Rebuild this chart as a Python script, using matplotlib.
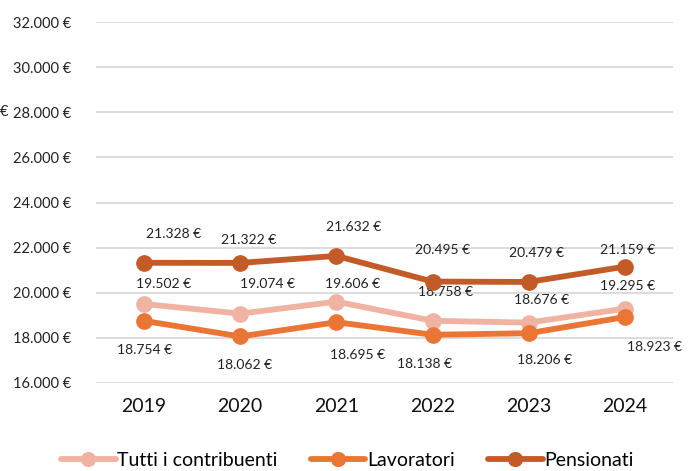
import matplotlib
matplotlib.use("Agg")
import matplotlib.pyplot as plt
from matplotlib.ticker import FuncFormatter

years = ["2019", "2020", "2021", "2022", "2023", "2024"]
tutti = [19502, 19074, 19606, 18758, 18676, 19295]
lavoratori = [18754, 18062, 18695, 18138, 18206, 18923]
pensionati = [21328, 21322, 21632, 20495, 20479, 21159]
series_names = ["Tutti i contribuenti", "Lavoratori", "Pensionati"]

colors = ["#F1B3A1", "#EB7535", "#C25B28"]

# label offsets in pixels (dx, dy) relative to points
off_tutti = [(19, 20), (27, 30), (16, 18), (13, 29), (13, 23), (3, 23)]
off_lav = [(0, -29), (4, -29), (21, -33), (-8, -29), (16, -27), (30, -30)]
off_pens = [(29, 29), (8, 23), (17, 29), (10, 32), (8, 29), (3, 17)]

plt.rcParams['font.family'] = ['Lato', 'DejaVu Sans']

fig = plt.figure(figsize=(6.95, 4.71), dpi=100)
ax = fig.add_axes([96/695, 88/471, 577/695, 361/471])

x = list(range(len(years)))
lw = 4.2
ms = 11
for vals, col, name, offs in [(tutti, colors[0], series_names[0], off_tutti),
                              (lavoratori, colors[1], series_names[1], off_lav),
                              (pensionati, colors[2], series_names[2], off_pens)]:
    ax.plot(x, vals, color=col, lw=lw, marker='o', ms=ms, label=name,
            solid_capstyle='round', zorder=3)
    for xi, v, (dx, dy) in zip(x, vals, offs):
        txt = f"{v:,}".replace(",", ".") + " €"
        ax.annotate(txt, (xi, v), xytext=(dx * 0.72, dy * 0.72),
                    textcoords='offset points', ha='center', va='center',
                    fontsize=10, color='#222222')

ax.set_xlim(-0.5, 5.5)
ax.set_ylim(16000, 32000)
ax.set_yticks(range(16000, 32001, 2000))
ax.yaxis.set_major_formatter(FuncFormatter(lambda v, p: f"{int(v):,}".replace(",", ".") + " €"))
ax.set_xticks(x)
ax.set_xticklabels(years, fontsize=14)
ax.tick_params(axis='y', labelsize=10.5, length=0, pad=18, labelcolor='#222222')
ax.tick_params(axis='x', length=0, pad=11, labelcolor='#111111')
ax.grid(axis='y', color='#D9D9D9', lw=1.3)
ax.set_axisbelow(True)
for s in ax.spines.values():
    s.set_visible(False)

fig.text(0.0, (471 - 112) / 471, "€", fontsize=10.5, va='center', ha='left', color='#222222')

leg = fig.legend(loc='center', bbox_to_anchor=(0.500, (471 - 460) / 471), ncol=3, frameon=False,
                 fontsize=14, handlelength=2.8, columnspacing=1.7, handletextpad=0.1,
                 markerscale=0.9)

fig.savefig("out.png", dpi=100)
